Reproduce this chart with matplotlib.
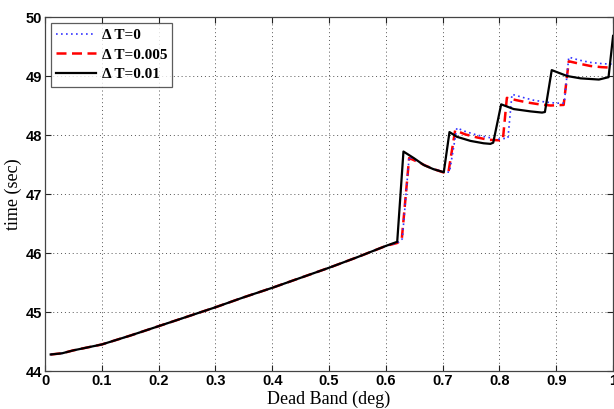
import matplotlib
matplotlib.use("Agg")
import matplotlib.pyplot as plt
from matplotlib import font_manager

# Shared smooth section (all three cases coincide before the first step)
base_x = [0.01, 0.03, 0.05, 0.10, 0.15, 0.20, 0.25, 0.30, 0.35, 0.40, 0.45, 0.50, 0.55, 0.60]
base_y = [44.28, 44.30, 44.35, 44.45, 44.60, 44.76, 44.92, 45.08, 45.25, 45.41, 45.58, 45.75, 45.93, 46.12]

# Delta T = 0
dt0_x = [0.620, 0.629, 0.641, 0.655, 0.670, 0.685, 0.700, 0.712, 0.725, 0.740, 0.760, 0.780, 0.800, 0.815,
         0.822, 0.840, 0.860, 0.880, 0.900, 0.914, 0.922, 0.940, 0.960, 0.980, 1.000]
dt0_y = [46.17, 46.24, 47.63, 47.56, 47.48, 47.42, 47.38, 47.37, 48.12, 48.06, 48.00, 47.96, 47.93, 47.95,
         48.69, 48.64, 48.59, 48.56, 48.54, 48.54, 49.32, 49.27, 49.23, 49.21, 49.20]

# Delta T = 0.005
dt5_x = [0.620, 0.628, 0.641, 0.655, 0.670, 0.685, 0.700, 0.710, 0.722, 0.740, 0.760, 0.780, 0.800, 0.806,
         0.813, 0.830, 0.850, 0.870, 0.890, 0.913, 0.922, 0.940, 0.960, 0.980, 1.000]
dt5_y = [46.17, 46.23, 47.61, 47.55, 47.48, 47.42, 47.37, 47.36, 48.08, 48.01, 47.96, 47.92, 47.91, 47.92,
         48.63, 48.59, 48.55, 48.52, 48.50, 48.51, 49.25, 49.21, 49.17, 49.15, 49.14]

# Delta T = 0.01
dt10_x = [0.620, 0.631, 0.649, 0.667, 0.684, 0.702, 0.712, 0.725, 0.749, 0.772, 0.784, 0.789,
          0.803, 0.825, 0.855, 0.875, 0.880, 0.892, 0.919, 0.943, 0.975, 0.992, 1.000]
dt10_y = [46.19, 47.72, 47.61, 47.49, 47.42, 47.37, 48.05, 47.97, 47.90, 47.86, 47.85, 47.87,
          48.52, 48.44, 48.40, 48.38, 48.39, 49.10, 49.00, 48.96, 48.94, 48.98, 49.68]

x_ticks = [0, 0.1, 0.2, 0.3, 0.4, 0.5, 0.6, 0.7, 0.8, 0.9, 1]
x_tick_labels = ["0", "0.1", "0.2", "0.3", "0.4", "0.5", "0.6", "0.7", "0.8", "0.9", "1"]
y_ticks = [44, 45, 46, 47, 48, 49, 50]

available = {f.name for f in font_manager.fontManager.ttflist}
tick_family = "Liberation Sans Narrow" if "Liberation Sans Narrow" in available else "Liberation Sans"
serif_family = "Liberation Serif"

fig = plt.figure(figsize=(6.14, 4.09), dpi=100)
ax = fig.add_axes([0.0733, 0.0929, 0.9252, 0.8655])

ax.plot(base_x + dt0_x, base_y + dt0_y, color="#3333ff", linestyle=(0, (1, 2)), linewidth=1.2,
        label="\u0394 T=0", zorder=3)
ax.plot(base_x + dt5_x, base_y + dt5_y, color="#ff0000", linestyle=(0, (4, 2.2)), linewidth=1.8,
        label="\u0394 T=0.005", zorder=2)
ax.plot(base_x + dt10_x, base_y + dt10_y, color="black", linestyle="-", linewidth=1.6,
        label="\u0394 T=0.01", zorder=4)

ax.set_xlim(0, 1)
ax.set_ylim(44, 50)
ax.set_xticks(x_ticks)
ax.set_xticklabels(x_tick_labels)
ax.set_yticks(y_ticks)

for lab in ax.get_xticklabels() + ax.get_yticklabels():
    lab.set_fontfamily(tick_family)
    lab.set_fontweight("bold")
    lab.set_fontsize(10.5)

ax.tick_params(direction="in", length=4, width=0.8, top=True, right=True, pad=2, colors="#222222",
               labelcolor="black")
ax.grid(True, linestyle=(0, (1, 3)), color="#555555", linewidth=0.7)

for s in ax.spines.values():
    s.set_color("#444444")
    s.set_linewidth(0.9)

ax.set_xlabel("Dead Band (deg)", fontfamily=serif_family, fontsize=13, labelpad=2)
ax.set_ylabel("time (sec)", fontfamily=serif_family, fontsize=13, labelpad=3)

leg = ax.legend(loc="upper left", prop={"family": serif_family, "weight": "bold", "size": 11},
                frameon=True, fancybox=False, edgecolor="#333333", handlelength=2.6,
                borderaxespad=0.4, labelspacing=0.38, handletextpad=0.35, borderpad=0.35)
leg.get_frame().set_linewidth(0.9)

fig.savefig("out.png", dpi=100)
